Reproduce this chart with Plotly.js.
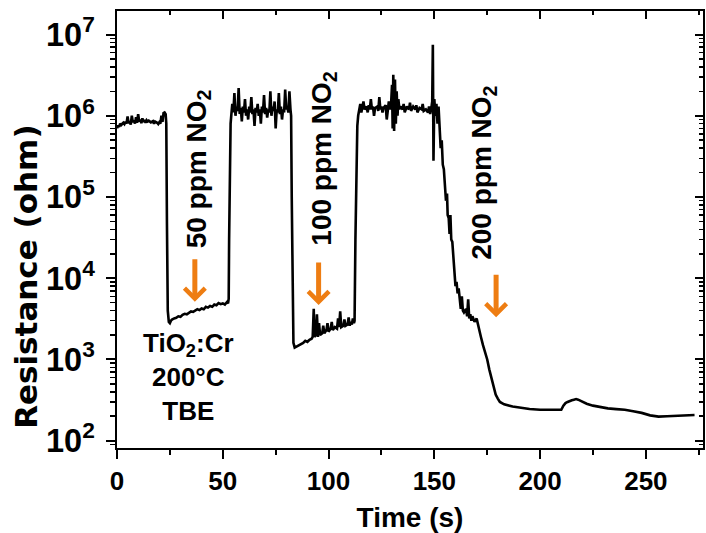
<!DOCTYPE html>
<html>
<head>
<meta charset="utf-8">
<script src="https://cdn.plot.ly/plotly-3.0.1.min.js"></script>
<style>
  html, body { margin: 0; padding: 0; background: #fff; }
  #chart { width: 706px; height: 533px; }
</style>
</head>
<body>
<div id="chart"></div>
<script>
// Time (s)
const timeS = [
  0, 0.5, 1, 1.5, 2, 3, 3.5, 4, 4.5, 5, 5.5, 6, 6.5, 7, 7.5, 8, 8.5, 9, 9.5, 10,
  10.5, 11, 11.5, 12, 12.5, 13, 13.5, 14, 14.5, 15, 16, 17, 17.5, 18, 19, 19.5, 20, 20.5, 21, 21.5,
  22, 22.5, 23, 23.3, 23.6, 24, 24.5,
  25, 25.5, 26, 27, 28, 29, 30, 31, 32, 33, 34, 35, 36, 37, 38, 39, 40, 41, 42, 43,
  44, 45, 46, 47, 48, 49, 50, 51, 52, 52.5, 52.8, 53, 53.3, 53.7,
  54, 54.5, 55, 55.5, 56, 56.5, 57, 57.5, 58, 58.5, 59, 59.5, 60, 60.5, 61, 61.5, 62, 62.5, 63, 63.5,
  64, 64.5, 65, 65.5, 66, 66.5, 67, 67.5, 68, 68.5, 69, 69.5, 70, 70.5, 71, 71.5, 72, 72.5, 73, 73.5,
  74, 74.5, 75, 75.5, 76, 76.5, 77, 77.5, 78, 78.5, 79, 79.5, 80, 80.5, 81, 81.5, 82, 82.3, 82.6, 83, 83.4,
  84, 85, 86, 87, 88, 89, 90, 91, 92, 92.5, 93, 93.3, 94, 94.5, 95, 95.5, 96, 97, 97.5, 98,
  99, 99.5, 100, 101, 101.5, 102, 103, 104, 104.5, 105, 105.5, 106, 107, 107.5, 108, 109, 109.5, 110, 110.5, 111,
  111.5, 112, 112.3, 112.7, 113.1, 113.6,
  114, 114.5, 115, 115.5, 116, 116.5, 117, 118, 118.5, 119, 119.5, 120, 120.5, 121, 121.5, 122, 123, 123.5, 124, 124.5,
  125, 125.5, 126, 127, 127.5, 128, 128.5, 129, 129.5, 130, 130.3, 130.6, 131, 131.4, 131.8, 132.2, 132.6, 133, 133.5, 134,
  135, 135.5, 136, 137, 138, 138.5, 139, 140, 141, 141.5, 142, 143, 144, 144.5, 145, 146, 147, 147.5, 148, 148.5,
  149, 149.3, 149.6, 150, 150.5, 151, 151.5, 152, 152.5, 153, 153.5, 154, 154.5, 155, 155.5, 156, 156.3, 156.8, 157.2, 157.6,
  158, 158.5, 159, 159.5, 160, 160.5, 161, 161.5, 162, 162.5, 163, 163.5, 164, 165, 165.5, 166, 166.5, 167, 167.5, 168,
  169, 170, 170.5, 171, 172, 173, 174, 175, 176, 177, 178, 179, 180, 181, 183, 185, 187, 191, 195, 200,
  205, 209, 210, 211, 212, 213, 214, 215, 216, 217, 218, 219, 220, 222, 225, 228, 232, 236, 240, 244,
  248, 252, 256, 260, 264, 268, 272, 273
];

// Resistance (ohm)
const resistanceOhm = [
  7.0e5, 7.6e5, 7.3e5, 8.0e5, 7.7e5, 8.2e5, 7.9e5, 8.4e5, 8.0e5, 9.8e5, 8.1e5, 8.6e5, 7.8e5, 1.0e6, 8.3e5, 8.8e5, 8.0e5, 9.6e5, 8.2e5, 1.05e6,
  8.5e5, 9.0e5, 8.1e5, 9.3e5, 8.4e5, 8.9e5, 8.2e5, 8.8e5, 8.5e5, 8.7e5, 8.3e5, 8.6e5, 8.0e5, 8.5e5, 8.2e5, 7.9e5, 8.3e5, 8.0e5, 1.0e6, 8.4e5,
  1.08e6, 1.1e6, 1.05e6, 8.0e5, 5.0e4, 4.0e3, 2.9e3,
  2.8e3, 3.0e3, 3.1e3, 3.2e3, 3.25e3, 3.4e3, 3.35e3, 3.55e3, 3.65e3, 3.6e3, 3.8e3, 3.9e3, 3.85e3, 4.0e3, 4.15e3, 4.05e3, 4.25e3, 4.15e3, 4.45e3, 4.35e3,
  4.55e3, 4.45e3, 4.75e3, 4.65e3, 4.95e3, 4.8e3, 4.9e3, 4.75e3, 5.1e3, 4.9e3, 5.6e3, 3.0e4, 3.0e5, 8.0e5,
  1.0e6, 1.4e6, 1.1e6, 1.9e6, 1.0e6, 1.3e6, 1.15e6, 2.2e6, 1.05e6, 1.25e6, 8.5e5, 1.3e6, 1.1e6, 1.6e6, 1.0e6, 1.2e6, 9.0e5, 1.3e6, 1.1e6, 1.7e6,
  1.05e6, 1.2e6, 7.5e5, 1.25e6, 1.1e6, 1.4e6, 1.0e6, 1.2e6, 8.0e5, 1.3e6, 1.1e6, 1.8e6, 1.05e6, 1.25e6, 9.5e5, 1.2e6, 1.1e6, 2.0e6, 1.0e6, 1.3e6,
  1.15e6, 1.5e6, 7.0e5, 1.2e6, 1.1e6, 1.9e6, 1.05e6, 1.3e6, 9.0e5, 1.2e6, 1.1e6, 2.1e6, 1.2e6, 1.3e6, 1.1e6, 2.0e6, 1.2e6, 1.0e6, 1.0e5, 5.0e3, 1.6e3,
  1.4e3, 1.45e3, 1.5e3, 1.55e3, 1.6e3, 1.7e3, 1.65e3, 1.75e3, 1.8e3, 1.9e3, 4.2e3, 1.9e3, 2.0e3, 3.6e3, 1.9e3, 2.8e3, 2.0e3, 2.1e3, 2.6e3, 2.1e3,
  2.3e3, 2.8e3, 2.2e3, 2.4e3, 2.9e3, 2.3e3, 2.5e3, 2.4e3, 3.2e3, 2.5e3, 3.9e3, 2.5e3, 2.6e3, 3.1e3, 2.6e3, 2.7e3, 3.3e3, 2.6e3, 2.9e3, 2.7e3,
  3.2e3, 2.8e3, 3.0e3, 3.0e4, 3.0e5, 7.5e5,
  1.0e6, 1.2e6, 1.4e6, 1.1e6, 1.25e6, 1.5e6, 1.2e6, 1.3e6, 1.1e6, 1.35e6, 1.2e6, 1.6e6, 1.2e6, 1.3e6, 1.0e6, 1.25e6, 1.3e6, 1.15e6, 1.7e6, 1.2e6,
  1.3e6, 1.1e6, 1.25e6, 1.35e6, 9.0e5, 1.25e6, 1.5e6, 1.2e6, 1.3e6, 2.4e6, 7.0e5, 3.2e6, 6.5e5, 2.8e6, 8.0e5, 2.0e6, 1.0e6, 1.6e6, 1.2e6, 1.3e6,
  1.2e6, 1.4e6, 1.1e6, 1.3e6, 1.2e6, 1.45e6, 1.15e6, 1.3e6, 1.2e6, 1.35e6, 1.1e6, 1.25e6, 1.2e6, 1.4e6, 1.15e6, 1.2e6, 1.1e6, 1.3e6, 1.05e6, 1.2e6,
  1.5e6, 7.5e6, 2.8e5, 1.6e6, 1.0e6, 1.4e6, 8.0e5, 1.3e6, 7.0e5, 4.0e5, 5.0e5, 2.5e5, 2.2e5, 1.4e5, 9.0e4, 1.1e5, 6.0e4, 5.5e4, 3.5e4, 6.0e4,
  3.0e4, 2.8e4, 1.8e4, 1.2e4, 8.0e3, 9.0e3, 6.5e3, 7.5e3, 5.0e3, 4.2e3, 6.0e3, 4.0e3, 3.8e3, 4.2e3, 3.4e3, 5.5e3, 3.2e3, 3.6e3, 3.0e3, 3.4e3,
  2.9e3, 3.2e3, 2.8e3, 2.4e3, 1.9e3, 1.5e3, 1.25e3, 1.0e3, 7.5e2, 5.8e2, 4.4e2, 3.7e2, 3.3e2, 3.0e2, 2.8e2, 2.7e2, 2.63e2, 2.55e2, 2.45e2, 2.4e2,
  2.4e2, 2.35e2, 2.4e2, 2.7e2, 2.9e2, 3.0e2, 3.1e2, 3.15e2, 3.2e2, 3.25e2, 3.2e2, 3.1e2, 3.0e2, 2.85e2, 2.7e2, 2.6e2, 2.5e2, 2.45e2, 2.4e2, 2.3e2,
  2.2e2, 2.05e2, 1.98e2, 2.0e2, 2.03e2, 2.05e2, 2.07e2, 2.07e2
];

// Annotation labels
const gasLabels = ["50 ppm NO<sub>2</sub>", "100 ppm NO<sub>2</sub>", "200 ppm NO<sub>2</sub>"];
const gasLabelTime = [38.5, 97.5, 173.2];
const gasLabelLogR = [5.346, 5.475, 5.303];
const arrowTime = [36.8, 95.3, 179.2];
const arrowTipLogR = [3.71, 3.67, 3.52];
const sampleLabel = "TiO<sub>2</sub>:Cr<br>200°C<br>TBE";
const sampleLabelTime = 34.0;
const sampleLabelLogR = 2.79;
const xTitle = "Time (s)";
const yTitle = "Resistance (ohm)";

const xRange = [0, 277];
const yLogRange = [1.91, 7.29];

const tickFont = {family: "Liberation Sans, Arial, sans-serif", size: 26, color: "#000", weight: "bold"};
const orange = "#EE7D12";

const traces = [
  {
    x: timeS, y: resistanceOhm, type: "scatter", mode: "lines",
    line: {color: "#000", width: 2.6}, showlegend: false, hoverinfo: "skip"
  },
  {x: [], y: [], xaxis: "x2", yaxis: "y2", showlegend: false, hoverinfo: "skip"}
];

const annotations = [];
gasLabels.forEach((t, i) => {
  annotations.push({
    x: gasLabelTime[i], y: gasLabelLogR[i], xref: "x", yref: "y",
    text: t, showarrow: false, textangle: -90,
    font: {family: "Liberation Sans, Arial, sans-serif", size: 28, color: "#000", weight: "bold"}
  });
  annotations.push({
    x: arrowTime[i], y: arrowTipLogR[i], xref: "x", yref: "y",
    text: "", showarrow: true, ax: 0, ay: -44,
    arrowhead: 4, arrowsize: 0.8, arrowwidth: 5, arrowcolor: orange, standoff: 0
  });
});
annotations.push({
  x: sampleLabelTime, y: sampleLabelLogR, xref: "x", yref: "y",
  text: sampleLabel, showarrow: false, align: "center",
  font: {family: "Liberation Sans, Arial, sans-serif", size: 26, color: "#000", weight: "bold"}
});
// y-axis title (placed below the plot centre, as in the original figure)
annotations.push({
  x: -0.155, y: 0.392, xref: "paper", yref: "paper",
  xanchor: "center", yanchor: "middle",
  text: yTitle, showarrow: false, textangle: -90,
  font: {family: "DejaVu Sans, sans-serif", size: 31, color: "#000", weight: "bold"}
});

const layout = {
  width: 706, height: 533,
  margin: {l: 117, r: 3, t: 11, b: 85},
  paper_bgcolor: "#fff", plot_bgcolor: "#fff",
  showlegend: false,
  xaxis: {
    range: xRange, dtick: 50, tick0: 0,
    showgrid: false, zeroline: false,
    showline: true, linecolor: "#000", linewidth: 2, mirror: true,
    ticks: "outside", ticklen: 9, tickwidth: 2, tickcolor: "#000",
    minor: {dtick: 25, ticks: "outside", ticklen: 5, tickwidth: 2, tickcolor: "#000"},
    tickfont: tickFont,
    title: {text: xTitle, font: {family: "Liberation Sans, Arial, sans-serif", size: 28, color: "#000", weight: "bold"}, standoff: 14}
  },
  yaxis: {
    type: "log", range: yLogRange, dtick: 1, exponentformat: "power",
    showgrid: false, zeroline: false,
    showline: true, linecolor: "#000", linewidth: 2, mirror: true,
    ticks: "outside", ticklen: 9, tickwidth: 2, tickcolor: "#000",
    minor: {ticks: "outside", ticklen: 5, tickwidth: 1.5, tickcolor: "#000"},
    tickfont: tickFont, ticklabelstandoff: 6
  },
  xaxis2: {
    overlaying: "x", side: "top", anchor: "y", range: xRange, dtick: 50, tick0: 0,
    showgrid: false, zeroline: false, showline: false, showticklabels: false,
    ticks: "inside", ticklen: 8, tickwidth: 2, tickcolor: "#000",
    minor: {dtick: 25, ticks: "inside", ticklen: 4, tickwidth: 2, tickcolor: "#000"}
  },
  yaxis2: {
    overlaying: "y", side: "right", anchor: "x", type: "log", range: yLogRange, dtick: 1,
    showgrid: false, zeroline: false, showline: false, showticklabels: false,
    ticks: "inside", ticklen: 8, tickwidth: 2, tickcolor: "#000",
    minor: {ticks: "inside", ticklen: 4, tickwidth: 1.5, tickcolor: "#000"}
  },
  annotations: annotations
};

Plotly.newPlot("chart", traces, layout, {staticPlot: true, displayModeBar: false});
</script>
</body>
</html>
